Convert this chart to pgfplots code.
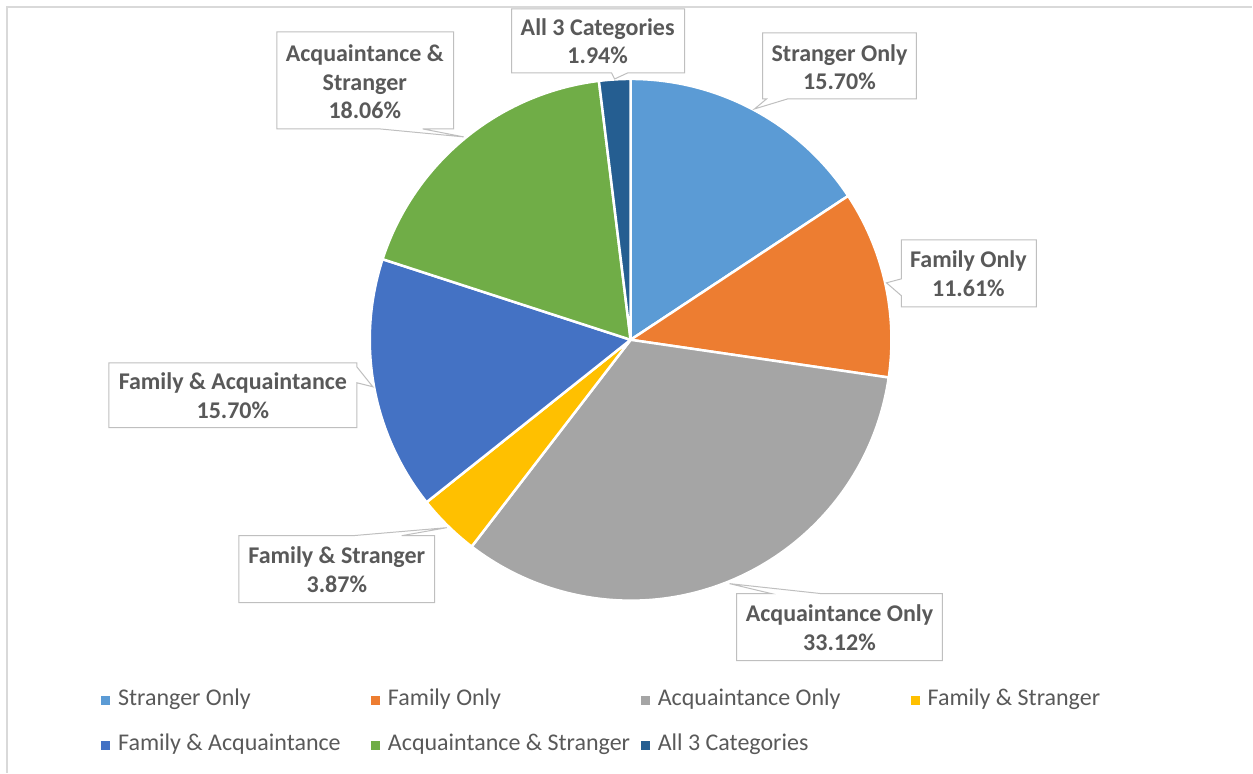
\documentclass[border=0pt]{standalone}
\usepackage{pgfplots}
\pgfplotsset{compat=1.18}
\usepackage{pgfplotstable}
\usepackage{fontspec}
\setmainfont{Carlito}

\definecolor{c1}{HTML}{5B9BD5}
\definecolor{c2}{HTML}{ED7D31}
\definecolor{c3}{HTML}{A5A5A5}
\definecolor{c4}{HTML}{FFC000}
\definecolor{c5}{HTML}{4472C4}
\definecolor{c6}{HTML}{70AD47}
\definecolor{c7}{HTML}{255E91}
\definecolor{txt}{HTML}{595959}
\definecolor{boxgrey}{HTML}{BFBFBF}
\definecolor{framegrey}{HTML}{D9D9D9}

% share of each category (percent), in clockwise order from 12 o'clock
\pgfplotstableread{
value color
15.70 c1
11.61 c2
33.12 c3
3.87  c4
15.70 c5
18.06 c6
1.94  c7
}\piedata

\newcommand\pp[2]{(axis cs:#1,-#2)}
\pgfplotsset{sqlegend/.style={legend image code/.code={\fill[##1] (0pt,-4.5pt) rectangle (9pt,4.5pt);}}}

\begin{document}
\begin{tikzpicture}
\begin{axis}[
  x=1pt, y=1pt,
  xmin=0, xmax=1253, ymin=-773, ymax=0,
  hide axis,
  clip=false,
  legend columns=4,
  legend cell align=left,
  legend style={at={(axis cs:101,-689)}, anchor=north west, draw=none, fill=none,
    inner sep=0pt, font=\fontsize{24}{28}\selectfont, text=txt,
    nodes={inner sep=0pt, text height=17pt, text depth=6pt},
    row sep=22pt,
    /tikz/every odd column/.append style={column sep=8pt}},
]
% page extent
\path \pp{0}{0} rectangle \pp{1253}{773};
% chart frame
\draw[framegrey, line width=1.5pt] \pp{7}{773} -- \pp{7}{7} -- \pp{1253}{7};

% slices
\def\cum{90}
\pgfplotsforeachungrouped \i in {0,...,6}{%
  \pgfplotstablegetelem{\i}{value}\of\piedata \let\v\pgfplotsretval
  \pgfplotstablegetelem{\i}{color}\of\piedata \let\c\pgfplotsretval
  \pgfmathsetmacro\endang{\cum - 3.6*\v}%
  \edef\temp{\noexpand\fill[\c, draw=white, line width=2.5pt, line join=round] (axis cs:631,-340) -- ++(\cum:261pt) arc[start angle=\cum, end angle=\endang, radius=261pt] -- cycle;}%
  \temp
  \global\let\cum\endang
}

% callouts
\tikzset{callout/.style={fill=white, draw=boxgrey, line width=1pt, line join=miter}}
\tikzset{lbl/.style={align=center, text=txt, font=\bfseries\fontsize{24}{28.5}\selectfont, inner sep=0pt}}
\draw[callout] \pp{512}{9} -- \pp{685}{9} -- \pp{685}{73} -- \pp{628}{73} -- \pp{615}{79} -- \pp{612}{73} -- \pp{512}{73} -- cycle;
\node[lbl] at \pp{598}{41} {All 3 Categories\\1.94\%};

\draw[callout] \pp{763}{33} -- \pp{917}{33} -- \pp{917}{99} -- \pp{788}{99} -- \pp{755}{109} -- \pp{767}{99} -- \pp{763}{99} -- cycle;
\node[lbl] at \pp{840}{67} {Stranger Only\\15.70\%};

\draw[callout] \pp{277}{32} -- \pp{454}{32} -- \pp{454}{129} -- \pp{423}{129} -- \pp{464}{137} -- \pp{380}{129} -- \pp{277}{129} -- cycle;
\node[lbl] at \pp{365}{82} {Acquaintance \&\\Stranger\\18.06\%};

\draw[callout] \pp{902}{240} -- \pp{1037}{240} -- \pp{1037}{307} -- \pp{902}{307} -- \pp{902}{296} -- \pp{887}{283} -- \pp{902}{279} -- cycle;
\node[lbl] at \pp{969}{274} {Family Only\\11.61\%};

\draw[callout] \pp{109}{363} -- \pp{357}{363} -- \pp{357}{367} -- \pp{373}{387} -- \pp{357}{383} -- \pp{357}{428} -- \pp{109}{428} -- cycle;
\node[lbl] at \pp{233}{396} {Family \& Acquaintance\\15.70\%};

\draw[callout] \pp{239}{536} -- \pp{353}{536} -- \pp{447}{528} -- \pp{402}{536} -- \pp{435}{536} -- \pp{435}{603} -- \pp{239}{603} -- cycle;
\node[lbl] at \pp{337}{570} {Family \& Stranger\\3.87\%};

\draw[callout] \pp{737}{594} -- \pp{772}{594} -- \pp{730}{584} -- \pp{822}{594} -- \pp{943}{594} -- \pp{943}{661} -- \pp{737}{661} -- cycle;
\node[lbl] at \pp{840}{628} {Acquaintance Only\\33.12\%};

% legend
\addlegendimage{sqlegend, fill=c1, draw=none}
\addlegendentry{\makebox[253pt][l]{Stranger Only}}
\addlegendimage{sqlegend, fill=c2, draw=none}
\addlegendentry{\makebox[253pt][l]{Family Only}}
\addlegendimage{sqlegend, fill=c3, draw=none}
\addlegendentry{\makebox[253pt][l]{Acquaintance Only}}
\addlegendimage{sqlegend, fill=c4, draw=none}
\addlegendentry{\makebox[253pt][l]{Family \& Stranger}}
\addlegendimage{sqlegend, fill=c5, draw=none}
\addlegendentry{\makebox[253pt][l]{Family \& Acquaintance}}
\addlegendimage{sqlegend, fill=c6, draw=none}
\addlegendentry{\makebox[253pt][l]{Acquaintance \& Stranger}}
\addlegendimage{sqlegend, fill=c7, draw=none}
\addlegendentry{\makebox[253pt][l]{All 3 Categories}}
\end{axis}
\end{tikzpicture}
\end{document}
